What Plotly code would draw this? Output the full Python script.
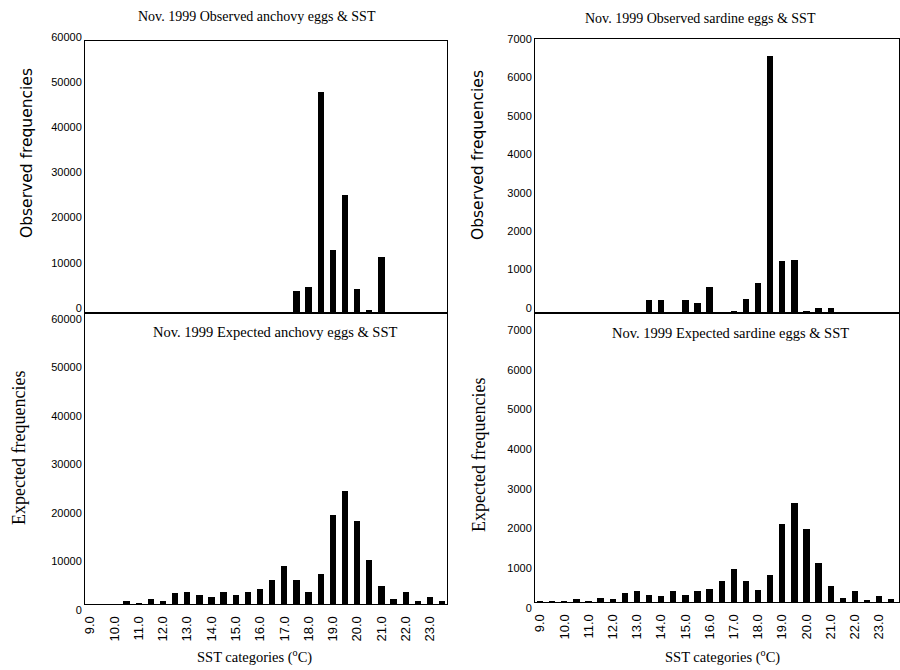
import plotly.graph_objects as go

sst = [9.0 + 0.5 * i for i in range(30)]
tick_vals = [9.0 + i for i in range(15)]
tick_text = [f"{v:.1f}" for v in tick_vals]

obs_anchovy = [0, 0, 0, 0, 0, 0, 0, 0, 0, 0, 0, 0, 0, 0, 0, 0, 0,
               4800, 5700, 49000, 13900, 26100, 5300, 740, 12400,
               0, 0, 0, 0, 0]
obs_sardine = [0, 0, 0, 0, 0, 0, 0, 0, 0,
               340, 340, 10, 340, 260, 680, 10, 50, 370, 790, 6700,
               1360, 1390, 50, 130, 130,
               0, 0, 0, 0, 0]
exp_anchovy = [0, 0, 0, 700, 100, 950, 600, 2200, 2500, 1850, 1400, 2500,
               1850, 2550, 3000, 4950, 7850, 4950, 2550, 6250, 18300, 23200,
               17100, 9150, 3650, 950, 2550, 700, 1400, 700]
exp_sardine = [10, 10, 10, 65, 5, 90, 65, 220, 280, 165, 140, 280, 170, 280,
               320, 530, 840, 530, 290, 670, 1960, 2490, 1850, 970, 400, 90,
               285, 55, 140, 65]

titles = ["Nov. 1999 Observed anchovy eggs & SST",
          "Nov. 1999 Observed sardine eggs & SST",
          "Nov. 1999 Expected anchovy eggs & SST",
          "Nov. 1999 Expected sardine eggs & SST"]

W, H = 900, 670
def fx(px):
    return px / W
def fy(py):
    return (H - py) / H

fig = go.Figure()
series = [obs_anchovy, obs_sardine, exp_anchovy, exp_sardine]
for i, s in enumerate(series):
    fig.add_trace(go.Bar(x=sst, y=s, width=0.26, marker=dict(color="black", line=dict(width=0)),
                         xaxis=f"x{i+1}" if i else "x", yaxis=f"y{i+1}" if i else "y",
                         showlegend=False))

ytickfont = dict(family="Liberation Sans Narrow, Liberation Sans, Arial", size=11, color="black")
xtickfont = dict(family="Liberation Sans, Arial", size=13, color="black")
axis_common = dict(showline=True, linecolor="black", linewidth=1, mirror=True,
                   showgrid=False, zeroline=False, ticks="", automargin=False)

panels = [
    # (x0, x1, ytop, ybot, xrange, yrange, dtick, show x labels, label shift)
    (85, 447, 41, 313, [8.79, 23.70], [0, 60200], 10000, False, -5),
    (535, 899, 39, 313, [8.79, 23.82], [0, 7130], 1000, False, -5),
    (85, 447, 313, 604, [8.79, 23.70], [0, 60000], 10000, True, 6),
    (535, 899, 313, 602, [8.79, 23.82], [0, 7280], 1000, True, 6),
]
layout = dict(width=W, height=H, margin=dict(l=0, r=0, t=0, b=0, autoexpand=False),
              plot_bgcolor="white", paper_bgcolor="white", bargap=0)
for i, (x0, x1, yt, yb, xr, yr, dt, showx, shift) in enumerate(panels):
    n = "" if i == 0 else str(i + 1)
    layout[f"xaxis{n}"] = dict(domain=[fx(x0), fx(x1)], range=xr, anchor=f"y{n}",
                               tickvals=tick_vals, ticktext=tick_text,
                               showticklabels=showx, tickangle=-90, tickfont=xtickfont,
                               ticklabelstandoff=6, **axis_common)
    layout[f"yaxis{n}"] = dict(domain=[fy(yb), fy(yt)], range=yr, anchor=f"x{n}",
                               dtick=dt, tickformat="d", tickfont=ytickfont,
                               ticklabelshift=shift, **axis_common)
fig.update_layout(**layout)

serif = "Liberation Serif, Times New Roman, serif"
sans = "DejaVu Sans, Verdana, sans-serif"
ann = []
# panel titles
ann.append(dict(text=titles[0], x=fx(257), y=fy(16), font=dict(family=serif, size=14)))
ann.append(dict(text=titles[1], x=fx(700), y=fy(18), font=dict(family=serif, size=14)))
ann.append(dict(text=titles[2], x=fx(275), y=fy(332), font=dict(family=serif, size=14.5)))
ann.append(dict(text=titles[3], x=fx(730), y=fy(333), font=dict(family=serif, size=14.5)))
# y titles
ann.append(dict(text="Observed frequencies", x=fx(27), y=fy(153), textangle=-90,
                font=dict(family=sans, size=15.5)))
ann.append(dict(text="Observed frequencies", x=fx(478), y=fy(155), textangle=-90,
                font=dict(family=sans, size=15.5)))
ann.append(dict(text="Expected frequencies", x=fx(19), y=fy(448), textangle=-90,
                font=dict(family=serif, size=18)))
ann.append(dict(text="Expected frequencies", x=fx(479), y=fy(455), textangle=-90,
                font=dict(family=serif, size=18)))
# x titles
ann.append(dict(text="SST categories (<sup>o</sup>C)", x=fx(254), y=fy(656),
                font=dict(family=serif, size=14.5)))
ann.append(dict(text="SST categories (<sup>o</sup>C)", x=fx(722), y=fy(656),
                font=dict(family=serif, size=14.5)))
for a in ann:
    a.update(xref="paper", yref="paper", showarrow=False, xanchor="center", yanchor="middle")
    a["font"]["color"] = "black"
fig.update_layout(annotations=ann)

fig.write_html("out.html", config={"displayModeBar": False},
               post_script="document.body.style.margin='0px';")
